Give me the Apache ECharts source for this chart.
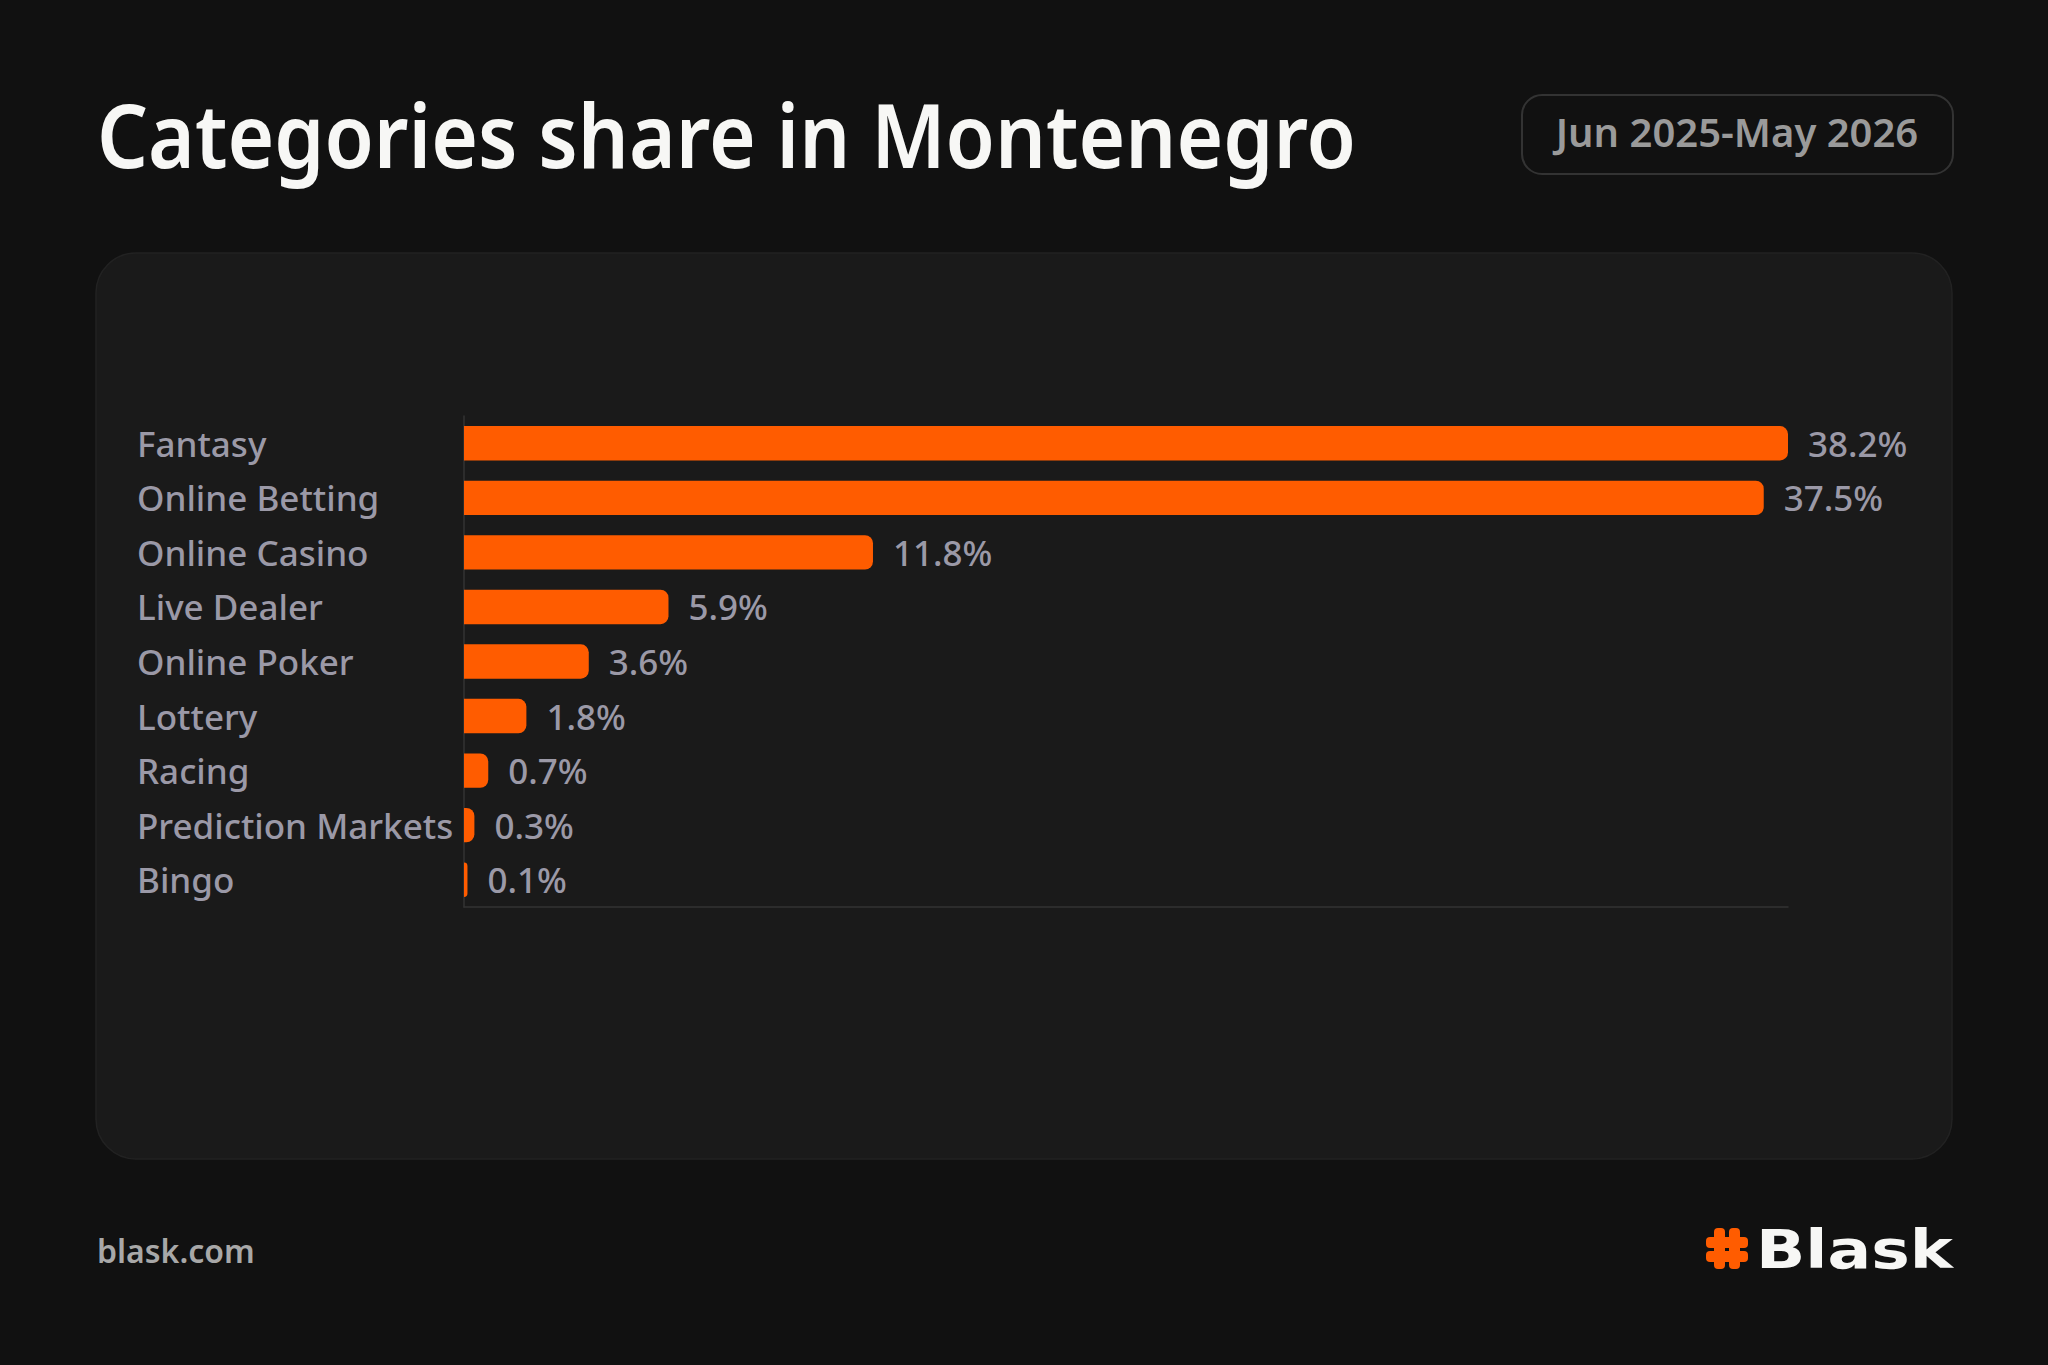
<!DOCTYPE html>
<html>
<head>
<meta charset="utf-8">
<style>
  html, body { margin: 0; padding: 0; background: #111111; }
  #chart { width: 2048px; height: 1365px; }
</style>
<script src="https://cdn.jsdelivr.net/npm/echarts@6/dist/echarts.min.js"></script>
</head>
<body>
<div id="chart"></div>
<script>
const categories = ['Fantasy', 'Online Betting', 'Online Casino', 'Live Dealer', 'Online Poker', 'Lottery', 'Racing', 'Prediction Markets', 'Bingo'];
const shares = [38.2, 37.5, 11.8, 5.9, 3.6, 1.8, 0.7, 0.3, 0.1];
const titleText = 'Categories share in Montenegro';
const periodText = 'Jun 2025-May 2026';
const footerText = 'blask.com';
const logoText = 'Blask';

const ORANGE = '#ff5c00';
const chart = echarts.init(document.getElementById('chart'), null, { renderer: 'svg' });

chart.setOption({
  backgroundColor: '#111111',
  animation: false,
  grid: { left: 464, right: 260, top: 416, bottom: 458, containLabel: false },
  xAxis: {
    type: 'value', min: 0, max: 38.2,
    axisLine: { show: true, lineStyle: { color: '#333333', width: 1.5 } },
    axisTick: { show: false }, axisLabel: { show: false }, splitLine: { show: false }
  },
  yAxis: {
    type: 'category', data: categories, inverse: true,
    axisLine: { show: true, lineStyle: { color: '#333333', width: 1.5 } },
    axisTick: { show: false },
    axisLabel: {
      align: 'left', margin: 327, color: '#9b99a7',
      fontFamily: 'Noto Sans', fontSize: 35, fontWeight: 500, padding: [3, 0, 0, 0]
    }
  },
  series: [{
    type: 'bar', data: shares, barCategoryGap: '37%',
    itemStyle: { color: ORANGE, borderRadius: [0, 8, 8, 0] },
    label: {
      show: true, position: 'right', distance: 20,
      formatter: '{c}%', color: '#9b99a7',
      fontFamily: 'Noto Sans', fontSize: 35, fontWeight: 500, padding: [3, 0, 0, 0]
    }
  }],
  graphic: [
    { type: 'rect', z: -10, shape: { x: 96, y: 253, width: 1856, height: 906, r: 40 },
      style: { fill: '#1a1a1a', stroke: '#222222', lineWidth: 1.5 } },
    { type: 'text', x: 97, y: 90, scaleX: 0.91, style: { text: titleText, fill: '#f7f7f5',
      font: '600 88px "Noto Sans"' } },
    { type: 'rect', shape: { x: 1522, y: 95, width: 431, height: 79, r: 20 },
      style: { fill: '#111111', stroke: '#333333', lineWidth: 2 } },
    { type: 'text', x: 1737, y: 131, style: { text: periodText, fill: '#9a9a9a',
      font: '600 40px "Noto Sans"', textAlign: 'center', textVerticalAlign: 'middle' } },
    { type: 'text', x: 97, y: 1250, style: { text: footerText, fill: '#a8a8a8',
      font: '600 32px "Noto Sans"', textVerticalAlign: 'middle' } },
    { type: 'group', children: [
      { type: 'rect', shape: { x: 1714, y: 1228, width: 11, height: 41, r: 4 }, style: { fill: ORANGE } },
      { type: 'rect', shape: { x: 1729, y: 1228, width: 11, height: 41, r: 4 }, style: { fill: ORANGE } },
      { type: 'rect', shape: { x: 1706, y: 1237, width: 42, height: 11, r: 4 }, style: { fill: ORANGE } },
      { type: 'rect', shape: { x: 1706, y: 1251, width: 42, height: 11, r: 4 }, style: { fill: ORANGE } }
    ] },
    { type: 'text', x: 1756, y: 1249, scaleX: 1.2,
      style: { text: logoText, fill: '#f7f7f5', font: 'bold 54px "DejaVu Sans"', textVerticalAlign: 'middle' } }
  ]
});
</script>
</body>
</html>
